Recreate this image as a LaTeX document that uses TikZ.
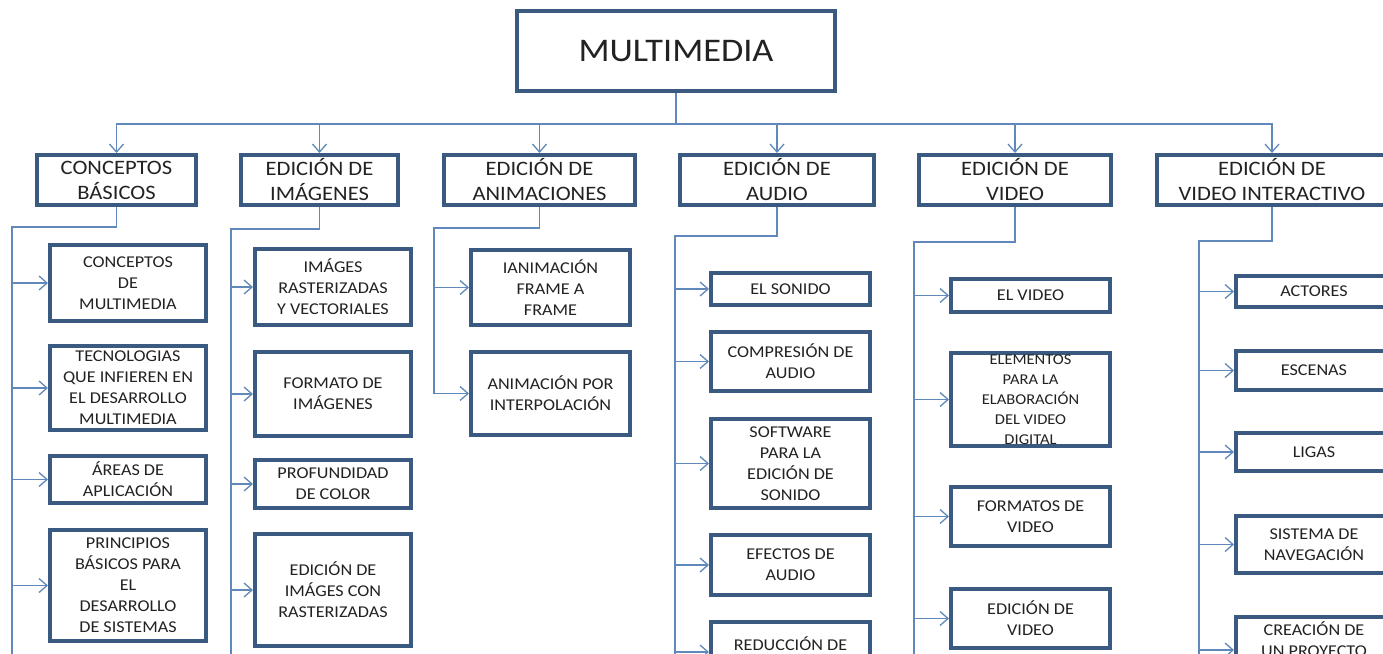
\documentclass[tikz,border=0pt]{standalone}
\usepackage{fontspec}
\setmainfont{Carlito}[FakeStretch=1.1]
\usetikzlibrary{arrows.meta,positioning}
\definecolor{boxline}{HTML}{3A5A82}
\definecolor{conline}{HTML}{6088BA}
\definecolor{txt}{HTML}{222222}
\tikzset{
  tema/.style={draw=boxline, line width=3.5pt, fill=white, text=txt, align=center, font=\fontsize{33}{36}\selectfont},
  rama/.style={draw=boxline, line width=4pt, fill=white, text=txt, align=center, inner sep=2pt, font=\fontsize{20.5}{25}\selectfont},
  sub/.style={draw=boxline, line width=4pt, fill=white, text=txt, align=center, inner sep=2pt, font=\fontsize{16.5}{21}\selectfont},
  con/.style={draw=conline, line width=1.3pt},
  flecha/.style={con, -{Straight Barb[length=8pt,width=14pt]}}
}

\begin{document}
\begin{tikzpicture}[x=1pt,y=-1pt]
	\useasboundingbox (0,0) rectangle (1383,653);
	\fill[white] (0,0) rectangle (1383,653);

	\node[tema, minimum width=318pt, minimum height=80pt] (mm) at (676,51) {MULTIMEDIA};

	\node[rama, minimum width=159pt, minimum height=50pt] (c1) at (116.5,180) {CONCEPTOS\\BÁSICOS};
	\node[rama, minimum width=157pt, minimum height=50pt] (c2) at (319.5,180) {EDICIÓN DE\\IMÁGENES};
	\node[rama, minimum width=191pt, minimum height=50pt] (c3) at (539.5,180) {EDICIÓN DE\\ANIMACIONES};
	\node[rama, minimum width=194pt, minimum height=50pt] (c4) at (777,180) {EDICIÓN DE\\AUDIO};
	\node[rama, minimum width=192pt, minimum height=50pt] (c5) at (1015,180) {EDICIÓN DE\\VIDEO};
	\node[rama, minimum width=230pt, minimum height=50pt] (c6) at (1272,180) {EDICIÓN DE\\VIDEO INTERACTIVO};

	\coordinate (bus) at (676,124);
	\foreach \c in {c1,c2,c3,c4,c5,c6}
		\draw[flecha] (mm.south) -- (bus) -| (\c.north);

	\node[sub, minimum width=156pt, minimum height=76pt] (a1) at (128,283) {CONCEPTOS\\DE\\MULTIMEDIA};
	\node[sub, minimum width=156pt, minimum height=84pt] (a2) at (128,388) {TECNOLOGIAS\\QUE INFIEREN EN\\EL DESARROLLO\\MULTIMEDIA};
	\node[sub, minimum width=156pt, minimum height=47pt] (a3) at (128,479.5) {ÁREAS DE\\APLICACIÓN};
	\node[sub, minimum width=156pt, minimum height=111pt] (a4) at (128,585.5) {PRINCIPIOS\\BÁSICOS PARA\\EL\\DESARROLLO\\DE SISTEMAS};

	\node[sub, minimum width=156pt, minimum height=76pt] (b1) at (333,287) {IMÁGES\\RASTERIZADAS\\Y VECTORIALES};
	\node[sub, minimum width=156pt, minimum height=84pt] (b2) at (333,394) {FORMATO DE\\IMÁGENES};
	\node[sub, minimum width=156pt, minimum height=48pt] (b3) at (333,484) {PROFUNDIDAD\\DE COLOR};
	\node[sub, minimum width=156pt, minimum height=112pt] (b4) at (333,590) {EDICIÓN DE\\IMÁGES CON\\RASTERIZADAS};

	\node[sub, minimum width=159pt, minimum height=75pt] (d1) at (550.5,287.5) {IANIMACIÓN\\FRAME A\\FRAME};
	\node[sub, minimum width=159pt, minimum height=83pt] (d2) at (550.5,393.5) {ANIMACIÓN POR\\INTERPOLACIÓN};

	\node[sub, minimum width=159pt, minimum height=32pt] (e1) at (790.5,289) {EL SONIDO};
	\node[sub, minimum width=159pt, minimum height=59pt] (e2) at (790.5,361.5) {COMPRESIÓN DE\\AUDIO};
	\node[sub, minimum width=159pt, minimum height=89pt] (e3) at (790.5,463.5) {SOFTWARE\\PARA LA\\EDICIÓN DE\\SONIDO};
	\node[sub, minimum width=159pt, minimum height=60pt] (e4) at (790.5,565) {EFECTOS DE\\AUDIO};
	\node[sub, minimum width=159pt, minimum height=60pt, text depth=17pt] (e5) at (790.5,652) {REDUCCIÓN DE};

	\node[sub, minimum width=159pt, minimum height=33pt] (f1) at (1030.5,295.5) {EL VIDEO};
	\node[sub, minimum width=159pt, minimum height=91pt, font=\fontsize{15}{20}\selectfont] (f2) at (1030.5,399.5) {ELEMENTOS\\PARA LA\\ELABORACIÓN\\DEL VIDEO\\DIGITAL};
	\node[sub, minimum width=159pt, minimum height=59pt] (f3) at (1030.5,516.5) {FORMATOS DE\\VIDEO};
	\node[sub, minimum width=159pt, minimum height=59pt] (f4) at (1030.5,618.5) {EDICIÓN DE\\VIDEO};

	\node[sub, minimum width=156pt, minimum height=31pt] (g1) at (1314,291.5) {ACTORES};
	\node[sub, minimum width=156pt, minimum height=39pt] (g2) at (1314,370.5) {ESCENAS};
	\node[sub, minimum width=156pt, minimum height=38pt] (g3) at (1314,452) {LIGAS};
	\node[sub, minimum width=156pt, minimum height=57pt] (g4) at (1314,544.5) {SISTEMA DE\\NAVEGACIÓN};
	\node[sub, minimum width=156pt, minimum height=66pt, text depth=22pt] (g5) at (1314,650) {CREACIÓN DE\\UN PROYECTO};

	\coordinate (ka) at (116.5,227);
	\coordinate (ta) at (12,227);
	\coordinate (fa) at (12,660);
	\coordinate (kb) at (319.5,229);
	\coordinate (tb) at (231,229);
	\coordinate (fb) at (231,660);
	\coordinate (kd) at (539.5,228);
	\coordinate (td) at (434,228);
	\coordinate (ke) at (777,236);
	\coordinate (te) at (675,236);
	\coordinate (fe) at (675,660);
	\coordinate (kf) at (1015,242);
	\coordinate (tf) at (914,242);
	\coordinate (ff) at (914,660);
	\coordinate (kg) at (1272,241);
	\coordinate (tg) at (1199,241);
	\coordinate (fg) at (1199,660);

	\draw[con] (ta) -- (fa);
	\draw[con, line width=2pt] (tb) -- (fb);
	\draw[con] (te) -- (fe);
	\draw[con] (tf) -- (ff);
	\draw[con] (tg) -- (fg);

	\foreach \n in {a1,a2,a3,a4}
		\draw[flecha] (c1.south) -- (ka) -- (ta) |- (\n.west);
	\foreach \n in {b1,b2,b3,b4}
		\draw[flecha] (c2.south) -- (kb) -- (tb) |- (\n.west);
	\foreach \n in {d1,d2}
		\draw[flecha] (c3.south) -- (kd) -- (td) |- (\n.west);
	\foreach \n in {e1,e2,e3,e4,e5}
		\draw[flecha] (c4.south) -- (ke) -- (te) |- (\n.west);
	\foreach \n in {f1,f2,f3,f4}
		\draw[flecha] (c5.south) -- (kf) -- (tf) |- (\n.west);
	\foreach \n in {g1,g2,g3,g4,g5}
		\draw[flecha] (c6.south) -- (kg) -- (tg) |- (\n.west);

\end{tikzpicture}
\end{document}
